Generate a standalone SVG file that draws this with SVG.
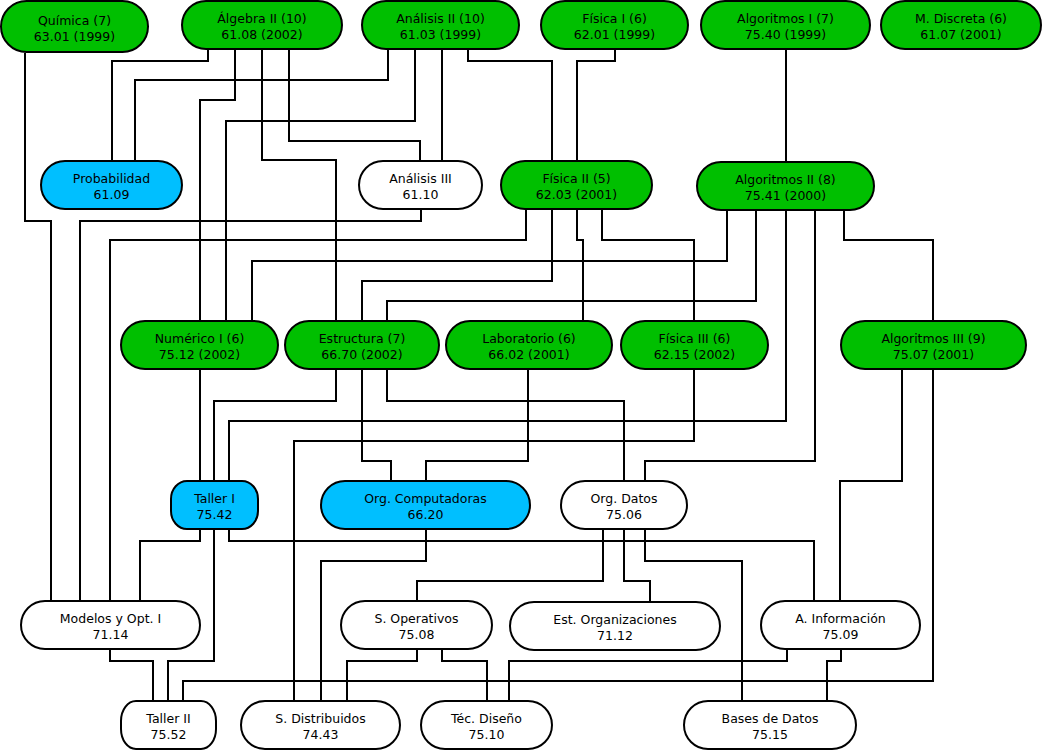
<svg xmlns="http://www.w3.org/2000/svg" width="1042" height="750" viewBox="0 0 1042 750">
<style>
.e{fill:none;stroke:#000;stroke-width:2}
.n rect{stroke:#000;stroke-width:2}
.g rect{fill:#00bf00}
.b rect{fill:#00bfff}
.w rect{fill:#fff}
text{font-family:"DejaVu Sans",Verdana,sans-serif;font-size:12.5px;fill:#000;text-anchor:middle}
</style>
<rect width="1042" height="750" fill="#fff"/>
<g id="connectors">
<path class="e" d="M25 53V221H51V601"/>
<path class="e" d="M208 49V61H112V161"/>
<path class="e" d="M235 49V100H200V321"/>
<path class="e" d="M262 49V160H336V321"/>
<path class="e" d="M289 49V141H420V161"/>
<path class="e" d="M388 49V80H135V161"/>
<path class="e" d="M415 49V121H226V321"/>
<path class="e" d="M442 49V161"/>
<path class="e" d="M468 49V61H552V161"/>
<path class="e" d="M615 49V61H577V161"/>
<path class="e" d="M786 49V162"/>
<path class="e" d="M421 209V221H80V601"/>
<path class="e" d="M526 209V240H110V601"/>
<path class="e" d="M727 210V261H252V321"/>
<path class="e" d="M552 209V281H362V321"/>
<path class="e" d="M756 210V301H387V321"/>
<path class="e" d="M577 209V240H583V321"/>
<path class="e" d="M602 209V240H694V321"/>
<path class="e" d="M844 210V240H933V321"/>
<path class="e" d="M815 210V461H645V481"/>
<path class="e" d="M786 210V421H229V481"/>
<path class="e" d="M694 369V441H294V701"/>
<path class="e" d="M528 369V461H426V481"/>
<path class="e" d="M336 369V401H214V481"/>
<path class="e" d="M362 369V461H391V481"/>
<path class="e" d="M387 369V401H624V481"/>
<path class="e" d="M200 369V481"/>
<path class="e" d="M902 369V481H840V601"/>
<path class="e" d="M933 369V681H183V701"/>
<path class="e" d="M200 529V541H140V601"/>
<path class="e" d="M214 529V661H168V701"/>
<path class="e" d="M229 529V541H814V601"/>
<path class="e" d="M426 529V561H321V701"/>
<path class="e" d="M603 529V581H417V601"/>
<path class="e" d="M624 529V581H650V602"/>
<path class="e" d="M645 529V561H742V701"/>
<path class="e" d="M110 649V661H153V701"/>
<path class="e" d="M417 649V661H347V701"/>
<path class="e" d="M442 649V661H487V701"/>
<path class="e" d="M787 649V661H509V701"/>
<path class="e" d="M841 649V661H827V701"/>
</g>
<g id="quimica" class="n g"><rect x="1" y="1" width="147" height="51" rx="25.5"/><text x="74.5" y="25">Química (7)</text><text x="74.5" y="41">63.01 (1999)</text></g>
<g id="algebra2" class="n g"><rect x="182" y="1" width="160" height="48" rx="24"/><text x="262" y="23">Álgebra II (10)</text><text x="262" y="39">61.08 (2002)</text></g>
<g id="analisis2" class="n g"><rect x="362" y="1" width="157" height="48" rx="24"/><text x="440.5" y="23">Análisis II (10)</text><text x="440.5" y="39">61.03 (1999)</text></g>
<g id="fisica1" class="n g"><rect x="541" y="1" width="147" height="48" rx="24"/><text x="614.5" y="23">Física I (6)</text><text x="614.5" y="39">62.01 (1999)</text></g>
<g id="algoritmos1" class="n g"><rect x="701" y="1" width="169" height="48" rx="24"/><text x="785.5" y="23">Algoritmos I (7)</text><text x="785.5" y="39">75.40 (1999)</text></g>
<g id="mdiscreta" class="n g"><rect x="881" y="1" width="160" height="48" rx="24"/><text x="961" y="23">M. Discreta (6)</text><text x="961" y="39">61.07 (2001)</text></g>
<g id="probabilidad" class="n b"><rect x="41" y="161" width="141" height="48" rx="24"/><text x="111.5" y="183">Probabilidad</text><text x="111.5" y="199">61.09</text></g>
<g id="analisis3" class="n w"><rect x="359" y="161" width="123" height="48" rx="24"/><text x="420.5" y="183">Análisis III</text><text x="420.5" y="199">61.10</text></g>
<g id="fisica2" class="n g"><rect x="501" y="161" width="151" height="48" rx="24"/><text x="576.5" y="183">Física II (5)</text><text x="576.5" y="199">62.03 (2001)</text></g>
<g id="algoritmos2" class="n g"><rect x="697" y="162" width="177" height="48" rx="24"/><text x="785.5" y="184">Algoritmos II (8)</text><text x="785.5" y="200">75.41 (2000)</text></g>
<g id="numerico1" class="n g"><rect x="121" y="321" width="157" height="48" rx="24"/><text x="199.5" y="343">Numérico I (6)</text><text x="199.5" y="359">75.12 (2002)</text></g>
<g id="estructura" class="n g"><rect x="285" y="321" width="154" height="48" rx="24"/><text x="362" y="343">Estructura (7)</text><text x="362" y="359">66.70 (2002)</text></g>
<g id="laboratorio" class="n g"><rect x="446" y="321" width="166" height="48" rx="24"/><text x="529" y="343">Laboratorio (6)</text><text x="529" y="359">66.02 (2001)</text></g>
<g id="fisica3" class="n g"><rect x="621" y="321" width="147" height="48" rx="24"/><text x="694.5" y="343">Física III (6)</text><text x="694.5" y="359">62.15 (2002)</text></g>
<g id="algoritmos3" class="n g"><rect x="841" y="321" width="185" height="48" rx="24"/><text x="933.5" y="343">Algoritmos III (9)</text><text x="933.5" y="359">75.07 (2001)</text></g>
<g id="taller1" class="n b"><rect x="171" y="481" width="87" height="48" rx="16" ry="18"/><text x="214.5" y="503">Taller I</text><text x="214.5" y="519">75.42</text></g>
<g id="orgcomp" class="n b"><rect x="321" y="481" width="209" height="48" rx="24"/><text x="425.5" y="503">Org. Computadoras</text><text x="425.5" y="519">66.20</text></g>
<g id="orgdatos" class="n w"><rect x="561" y="481" width="126" height="48" rx="24"/><text x="624" y="503">Org. Datos</text><text x="624" y="519">75.06</text></g>
<g id="modelos" class="n w"><rect x="21" y="601" width="179" height="48" rx="24"/><text x="110.5" y="623">Modelos y Opt. I</text><text x="110.5" y="639">71.14</text></g>
<g id="soperativos" class="n w"><rect x="341" y="601" width="151" height="48" rx="24"/><text x="416.5" y="623">S. Operativos</text><text x="416.5" y="639">75.08</text></g>
<g id="estorg" class="n w"><rect x="510" y="602" width="210" height="48" rx="24"/><text x="615" y="624">Est. Organizaciones</text><text x="615" y="640">71.12</text></g>
<g id="ainfo" class="n w"><rect x="761" y="601" width="159" height="48" rx="24"/><text x="840.5" y="623">A. Información</text><text x="840.5" y="639">75.09</text></g>
<g id="taller2" class="n w"><rect x="121" y="701" width="95" height="48" rx="15" ry="20"/><text x="168.5" y="723">Taller II</text><text x="168.5" y="739">75.52</text></g>
<g id="sdistribuidos" class="n w"><rect x="241" y="701" width="159" height="48" rx="24"/><text x="320.5" y="723">S. Distribuidos</text><text x="320.5" y="739">74.43</text></g>
<g id="tecdiseno" class="n w"><rect x="421" y="701" width="131" height="48" rx="24"/><text x="486.5" y="723">Téc. Diseño</text><text x="486.5" y="739">75.10</text></g>
<g id="basesdatos" class="n w"><rect x="684" y="701" width="172" height="48" rx="24"/><text x="770" y="723">Bases de Datos</text><text x="770" y="739">75.15</text></g>
</svg>
